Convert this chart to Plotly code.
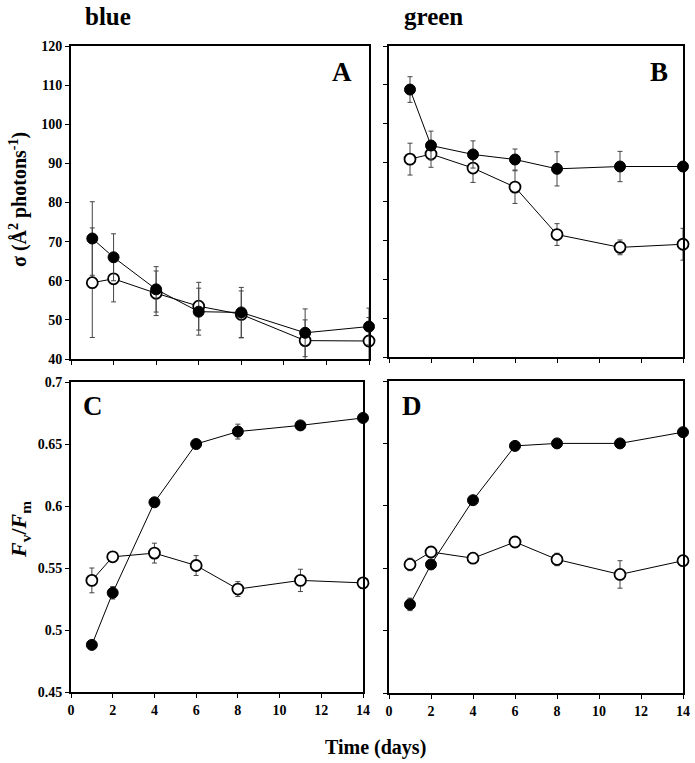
import plotly.graph_objects as go

# ---------------- data ----------------
days = [1, 2, 4, 6, 8, 11, 14]

# Panel A (blue light) - sigma
sigma_blue_filled = [70.8, 66.0, 57.8, 52.1, 51.9, 46.7, 48.3]
sigma_blue_filled_err = [9.4, 6.0, 5.8, 6.0, 6.4, 6.1, 4.7]
sigma_blue_open = [59.5, 60.5, 56.8, 53.5, 51.4, 44.7, 44.6]
sigma_blue_open_err = [14.0, 5.9, 5.7, 6.1, 6.0, 5.3, 6.0]

# Panel B (green light) - sigma
sigma_green_filled = [108.8, 94.4, 92.1, 90.8, 88.4, 89.0, 89.0]
sigma_green_filled_err = [3.3, 3.7, 3.5, 2.7, 4.4, 3.9, 1.0]
sigma_green_open = [90.9, 92.2, 88.6, 83.7, 71.5, 68.2, 69.0]
sigma_green_open_err = [4.1, 3.4, 3.7, 4.2, 2.8, 1.9, 4.1]

# Panel C (blue light) - Fv/Fm
fvfm_blue_filled = [0.488, 0.530, 0.603, 0.650, 0.660, 0.665, 0.671]
fvfm_blue_filled_err = [0.002, 0.005, 0.002, 0.002, 0.006, 0.002, 0.002]
fvfm_blue_open = [0.540, 0.559, 0.562, 0.552, 0.533, 0.540, 0.538]
fvfm_blue_open_err = [0.010, 0.002, 0.008, 0.008, 0.006, 0.009, 0.002]

# Panel D (green light) - Fv/Fm
fvfm_green_filled = [0.521, 0.553, 0.6045, 0.648, 0.650, 0.650, 0.659]
fvfm_green_filled_err = [0.005, 0.002, 0.002, 0.002, 0.002, 0.002, 0.002]
fvfm_green_open = [0.553, 0.563, 0.558, 0.571, 0.557, 0.545, 0.556]
fvfm_green_open_err = [0.005, 0.002, 0.002, 0.002, 0.005, 0.011, 0.002]

x_ticks = [0, 2, 4, 6, 8, 10, 12, 14]
sigma_ticks = [40, 50, 60, 70, 80, 90, 100, 110, 120]
fvfm_ticks = [0.45, 0.5, 0.55, 0.6, 0.65, 0.7]
fvfm_ticktext = ["0.45", "0.5", "0.55", "0.6", "0.65", "0.7"]

# ---------------- figure ----------------
W, H = 695, 763
FONT = "Liberation Serif"

fig = go.Figure()


def add_pair(xa, ya, open_vals, open_err, filled_vals, filled_err):
    err_style = dict(type="data", thickness=1, width=2.5, color="#444444")
    fig.add_trace(go.Scatter(
        x=days, y=open_vals, xaxis=xa, yaxis=ya, mode="lines+markers",
        line=dict(color="black", width=1),
        marker=dict(symbol="circle", size=11, color="white",
                    line=dict(color="black", width=1.8)),
        error_y=dict(array=open_err, **err_style),
        cliponaxis=False, showlegend=False))
    fig.add_trace(go.Scatter(
        x=days, y=filled_vals, xaxis=xa, yaxis=ya, mode="lines+markers",
        line=dict(color="black", width=1),
        marker=dict(symbol="circle", size=11, color="black",
                    line=dict(color="black", width=1)),
        error_y=dict(array=filled_err, **err_style),
        cliponaxis=False, showlegend=False))


add_pair("x", "y", sigma_blue_open, sigma_blue_open_err, sigma_blue_filled, sigma_blue_filled_err)
add_pair("x2", "y2", sigma_green_open, sigma_green_open_err, sigma_green_filled, sigma_green_filled_err)
add_pair("x3", "y3", fvfm_blue_open, fvfm_blue_open_err, fvfm_blue_filled, fvfm_blue_filled_err)
add_pair("x4", "y4", fvfm_green_open, fvfm_green_open_err, fvfm_green_filled, fvfm_green_filled_err)

tickfont = dict(family=FONT, size=14, color="black", weight="bold")


def xax(left, right, anchor, labels):
    return dict(domain=[left / W, right / W], anchor=anchor, range=[0, 14],
                tickvals=x_ticks, showticklabels=labels, ticks="outside",
                ticklen=4, tickwidth=1, tickcolor="black",
                showline=True, linecolor="black", linewidth=2, mirror=True,
                showgrid=False, zeroline=False, tickfont=tickfont)


def yax(top, bottom, anchor, rng, tv, tt, labels):
    return dict(domain=[1 - bottom / H, 1 - top / H], anchor=anchor, range=rng,
                tickvals=tv, ticktext=tt, showticklabels=labels, ticks="outside",
                ticklen=4, tickwidth=1, tickcolor="black",
                showline=True, linecolor="black", linewidth=2, mirror=True,
                showgrid=False, zeroline=False, tickfont=tickfont)


sig_tt = [str(v) for v in sigma_ticks]
fig.update_layout(
    width=W, height=H,
    margin=dict(l=0, r=0, t=0, b=0, autoexpand=False),
    paper_bgcolor="white", plot_bgcolor="white",
    xaxis=xax(71, 369, "y", False),
    yaxis=yax(46, 359, "x", [40, 120], sigma_ticks, sig_tt, True),
    xaxis2=xax(389, 683, "y2", False),
    yaxis2=yax(46, 357, "x2", [40, 120], sigma_ticks, sig_tt, False),
    xaxis3=xax(71, 363, "y3", True),
    yaxis3=yax(382, 692, "x3", [0.45, 0.7], fvfm_ticks, fvfm_ticktext, True),
    xaxis4=xax(389, 683, "y4", True),
    yaxis4=yax(381, 693, "x4", [0.45, 0.7], fvfm_ticks, fvfm_ticktext, False),
)


def ann(text, x, y, size, angle=0, xanchor="center"):
    fig.add_annotation(text=text, x=x / W, y=1 - y / H, xref="paper", yref="paper",
                       showarrow=False, textangle=angle, xanchor=xanchor, yanchor="middle",
                       font=dict(family=FONT, size=size, color="black"))


ann("<b>blue</b>", 108, 16, 25)
ann("<b>green</b>", 433, 16, 25)
ann("<b>A</b>", 342, 72, 27)
ann("<b>B</b>", 659, 72, 27)
ann("<b>C</b>", 93, 406, 27)
ann("<b>D</b>", 412, 406, 27)
ann("<b>σ (Å<sup>2</sup> photons<sup>-1</sup>)</b>", 18, 200, 20, angle=-90)
ann("<b><i>F</i><sub>v</sub>/<i>F</i><sub>m</sub></b>", 20, 530, 22, angle=-90)
ann("<b>Time (days)</b>", 375, 747, 20)

fig.write_html("out.html", config={"displayModeBar": False},
               post_script="document.body.style.margin='0px';document.body.style.overflow='hidden';")
